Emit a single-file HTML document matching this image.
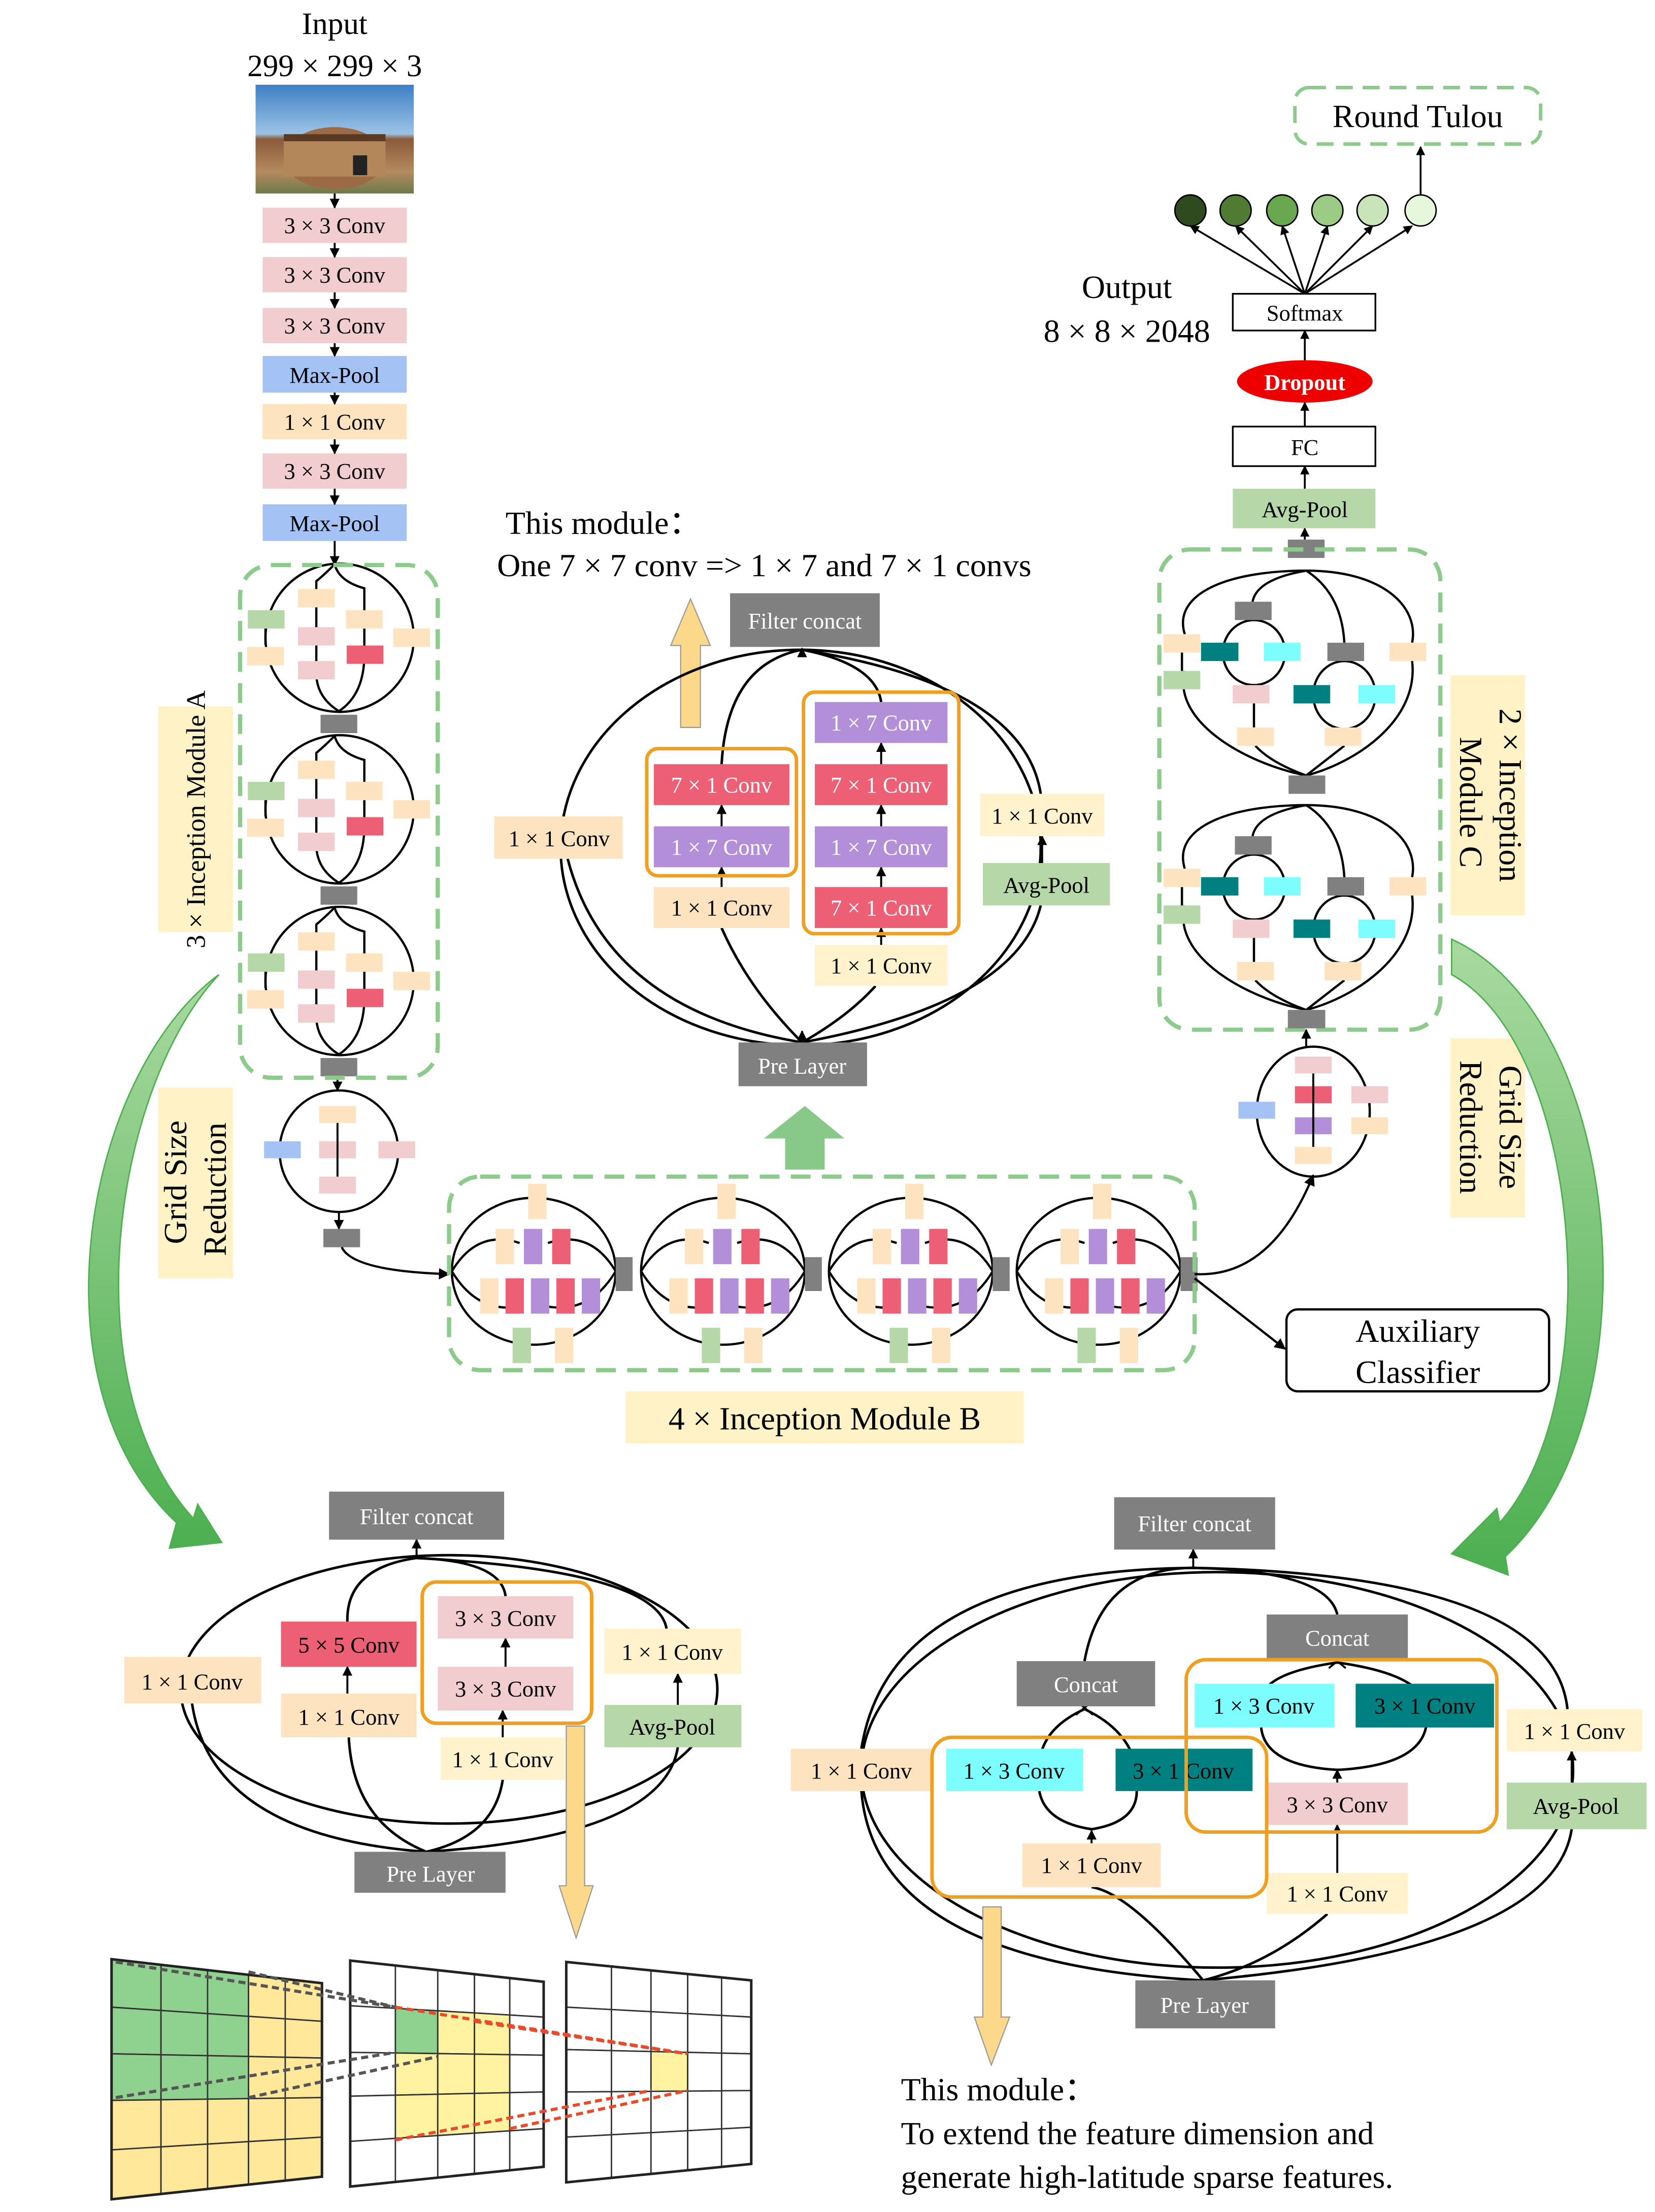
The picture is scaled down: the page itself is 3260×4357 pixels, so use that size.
<!DOCTYPE html>
<html><head><meta charset="utf-8">
<style>
html,body{margin:0;padding:0;background:#fff;}
svg{display:block;}
text{font-family:"Liberation Serif",serif;}
</style></head>
<body>
<svg id="s" xmlns="http://www.w3.org/2000/svg" width="3260" height="4357" viewBox="0 0 1172 1566" preserveAspectRatio="none">
<defs>
<marker id="ar" viewBox="0 0 10 10" refX="9" refY="5" markerWidth="5" markerHeight="5" orient="auto"><path d="M0,0L10,5L0,10z" fill="#000"/></marker>
<linearGradient id="sky" x1="0" y1="0" x2="0" y2="1"><stop offset="0" stop-color="#3f7fc4"/><stop offset="0.45" stop-color="#9bc3e6"/><stop offset="0.5" stop-color="#8a5a3a"/><stop offset="0.8" stop-color="#b58a5f"/><stop offset="1" stop-color="#6d7a4a"/></linearGradient>
<linearGradient id="ga" x1="0" y1="0" x2="0" y2="1"><stop offset="0" stop-color="#a9d9a0"/><stop offset="1" stop-color="#4caf50"/></linearGradient>
</defs>
<g fill="none" stroke="#000" stroke-width="1.6" id="lines"></g>
<g id="shapes"></g>

<text x="237" y="24" font-size="22" text-anchor="middle">Input</text>
<text x="237" y="54" font-size="22" text-anchor="middle">299 × 299 × 3</text>
<rect x="181" y="60" width="112" height="77" fill="url(#sky)"/>
<ellipse cx="237" cy="112" rx="36" ry="22" fill="#9c6b45"/>
<rect x="201" y="95" width="72" height="30" fill="#b4875a"/>
<rect x="201" y="95" width="72" height="5" fill="#5a3a24"/>
<rect x="250" y="110" width="10" height="14" fill="#222"/>
<g font-size="16" text-anchor="middle">
<rect x="186" y="147" width="102" height="25" fill="#f2cdd0"/><text x="237" y="165">3 × 3 Conv</text>
<rect x="186" y="182" width="102" height="25" fill="#f2cdd0"/><text x="237" y="200">3 × 3 Conv</text>
<rect x="186" y="218" width="102" height="25" fill="#f2cdd0"/><text x="237" y="236">3 × 3 Conv</text>
<rect x="186" y="252" width="102" height="26" fill="#a4c2f4"/><text x="237" y="271">Max-Pool</text>
<rect x="186" y="286" width="102" height="25" fill="#fde3bf"/><text x="237" y="304">1 × 1 Conv</text>
<rect x="186" y="321" width="102" height="25" fill="#f2cdd0"/><text x="237" y="339">3 × 3 Conv</text>
<rect x="186" y="357" width="102" height="26" fill="#a4c2f4"/><text x="237" y="376">Max-Pool</text>
</g>
<g stroke="#000" stroke-width="1.4" marker-end="url(#ar)">
<line x1="237" y1="137" x2="237" y2="147"/><line x1="237" y1="172" x2="237" y2="182"/><line x1="237" y1="207" x2="237" y2="218"/><line x1="237" y1="243" x2="237" y2="252"/><line x1="237" y1="278" x2="237" y2="286"/><line x1="237" y1="311" x2="237" y2="321"/><line x1="237" y1="346" x2="237" y2="357"/><line x1="237" y1="383" x2="237" y2="400"/>
<line x1="239" y1="763" x2="239" y2="772"/>
<line x1="240" y1="858" x2="240" y2="870"/>
</g>
<rect x="170" y="400" width="140" height="363" rx="22" fill="none" stroke="#8ccb8c" stroke-width="3" stroke-dasharray="14,8"/>
<rect x="112" y="500" width="53" height="160" fill="#fff2c6"/>
<text transform="translate(145,580) rotate(-90)" font-size="19" text-anchor="middle">3 × Inception Module  A</text>

<ellipse cx="240" cy="815" rx="42" ry="43" fill="none" stroke="#000" stroke-width="1.6"/>
<rect x="187" y="808" width="26" height="12" fill="#a4c2f4"/>
<rect x="226" y="783" width="26" height="12" fill="#fde3bf"/>
<rect x="226" y="808" width="26" height="12" fill="#f2cdd0"/>
<rect x="226" y="833" width="26" height="12" fill="#f2cdd0"/>
<rect x="268" y="808" width="26" height="12" fill="#f2cdd0"/>
<line x1="239" y1="795" x2="239" y2="833" stroke="#000" stroke-width="1.4"/>
<rect x="229" y="870" width="26" height="13" fill="#808080"/>
<rect x="112" y="770" width="53" height="135" fill="#fff2c6"/>
<text transform="translate(132,837) rotate(-90)" font-size="23" text-anchor="middle">Grid Size</text>
<text transform="translate(160,842) rotate(-90)" font-size="23" text-anchor="middle">Reduction</text>
<path d="M242,883 Q250,900 318,902" fill="none" stroke="#000" stroke-width="1.6" marker-end="url(#ar)"/>

<rect x="318" y="833" width="528" height="137" rx="22" fill="none" stroke="#8ccb8c" stroke-width="3" stroke-dasharray="14,8"/>
<rect x="443" y="985" width="282" height="37" fill="#fff2c6"/>
<text x="584" y="1012" font-size="23" text-anchor="middle">4 × Inception Module  B</text>
<path d="M846,902 Q900,905 930,832" fill="none" stroke="#000" stroke-width="1.6" marker-end="url(#ar)"/>
<path d="M846,905 L910,955" fill="none" stroke="#000" stroke-width="1.6" marker-end="url(#ar)"/>
<rect x="911" y="927" width="186" height="58" rx="8" fill="#fff" stroke="#000" stroke-width="1.6"/>
<text x="1004" y="950" font-size="23" text-anchor="middle">Auxiliary</text>
<text x="1004" y="979" font-size="23" text-anchor="middle">Classifier</text>

<polygon points="556,828 584,828 584,806 598,806 570,783 541,806 556,806" fill="#88c98a"/>

<text x="358" y="378" font-size="23">This module：</text>
<text x="352" y="408" font-size="23">One 7 × 7 conv =&gt; 1 × 7 and 7 × 1 convs</text>
<polygon points="482,515 496,515 496,457 503,457 489,424 475,457 482,457" fill="#fcd98a" stroke="#999" stroke-width="0.8"/>
<g fill="none" stroke="#000" stroke-width="1.8">
<ellipse cx="567" cy="600" rx="170" ry="140"/>
<path d="M568,738 Q530,700 511,657"/>
<path d="M568,738 Q600,720 620,698"/>
<path d="M568,738 Q720,710 737,641"/>
<path d="M568,738 Q430,715 402,608"/>
<path d="M511,541 Q515,470 568,460"/>
<path d="M624,497 Q620,470 568,460"/>
<path d="M737,562 Q725,485 568,460"/>
</g>
<g stroke="#000" stroke-width="1.4" marker-end="url(#ar)">
<line x1="511" y1="628" x2="511" y2="614"/><line x1="511" y1="585" x2="511" y2="570"/>
<line x1="624" y1="669" x2="624" y2="657"/><line x1="624" y1="628" x2="624" y2="614"/><line x1="624" y1="585" x2="624" y2="570"/><line x1="624" y1="541" x2="624" y2="526"/>
<line x1="738" y1="611" x2="738" y2="592"/><line x1="568" y1="465" x2="568" y2="459"/><line x1="568" y1="738" x2="568" y2="730"/>
</g>
<g font-size="16" text-anchor="middle">
<rect x="517" y="420" width="106" height="38" fill="#808080"/><text x="570" y="445" fill="#fff">Filter concat</text>
<rect x="523" y="738" width="91" height="31" fill="#808080"/><text x="568" y="760" fill="#fff">Pre Layer</text>
<rect x="350" y="578" width="91" height="30" fill="#fde3bf"/><text x="396" y="599">1 × 1 Conv</text>
<rect x="463" y="541" width="96" height="29" fill="#ec5f74"/><text x="511" y="561" fill="#fff">7 × 1 Conv</text>
<rect x="463" y="585" width="96" height="29" fill="#b48fd9"/><text x="511" y="605" fill="#fff">1 × 7 Conv</text>
<rect x="463" y="628" width="96" height="29" fill="#fde3bf"/><text x="511" y="648">1 × 1 Conv</text>
<rect x="577" y="497" width="94" height="29" fill="#b48fd9"/><text x="624" y="517" fill="#fff">1 × 7 Conv</text>
<rect x="577" y="541" width="94" height="29" fill="#ec5f74"/><text x="624" y="561" fill="#fff">7 × 1 Conv</text>
<rect x="577" y="585" width="94" height="29" fill="#b48fd9"/><text x="624" y="605" fill="#fff">1 × 7 Conv</text>
<rect x="577" y="628" width="94" height="29" fill="#ec5f74"/><text x="624" y="648" fill="#fff">7 × 1 Conv</text>
<rect x="577" y="669" width="94" height="29" fill="#fff2cc"/><text x="624" y="689">1 × 1 Conv</text>
<rect x="694" y="562" width="88" height="30" fill="#fff2cc"/><text x="738" y="583">1 × 1 Conv</text>
<rect x="696" y="611" width="90" height="30" fill="#b6d7a8"/><text x="741" y="632">Avg-Pool</text>
</g>
<rect x="458" y="530" width="106" height="90" rx="8" fill="none" stroke="#f0a020" stroke-width="2.5"/>
<rect x="569" y="490" width="110" height="171" rx="8" fill="none" stroke="#f0a020" stroke-width="2.5"/>

<rect x="917" y="62" width="174" height="40" rx="10" fill="none" stroke="#8ccb8c" stroke-width="2.5" stroke-dasharray="12,7"/>
<text x="1004" y="90" font-size="23" text-anchor="middle">Round Tulou</text>
<g stroke="#000" stroke-width="1.3" marker-end="url(#ar)">
<line x1="924" y1="208" x2="843" y2="160"/><line x1="924" y1="208" x2="875" y2="160"/><line x1="924" y1="208" x2="908" y2="160"/><line x1="924" y1="208" x2="940" y2="160"/><line x1="924" y1="208" x2="972" y2="160"/><line x1="924" y1="208" x2="1000" y2="160"/>
<line x1="1006" y1="138" x2="1006" y2="104"/>
<line x1="924" y1="255" x2="924" y2="234"/><line x1="924" y1="302" x2="924" y2="285"/><line x1="924" y1="346" x2="924" y2="330"/><line x1="924" y1="382" x2="924" y2="374"/>
</g>
<g stroke="#000" stroke-width="1">
<circle cx="843" cy="149" r="11" fill="#2f4a1f"/><circle cx="875" cy="149" r="11" fill="#4f7c32"/><circle cx="908" cy="149" r="11" fill="#6aa84f"/><circle cx="940" cy="149" r="11" fill="#9ccb86"/><circle cx="972" cy="149" r="11" fill="#c8e4b8"/><circle cx="1006" cy="149" r="11" fill="#e6f7dc"/>
</g>
<text x="798" y="211" font-size="23" text-anchor="middle">Output</text>
<text x="798" y="242" font-size="23" text-anchor="middle">8 × 8 × 2048</text>
<rect x="873" y="208" width="101" height="26" fill="#fff" stroke="#000" stroke-width="1.2"/>
<text x="924" y="227" font-size="16" text-anchor="middle">Softmax</text>
<ellipse cx="924" cy="270" rx="48" ry="15" fill="#ee0000"/>
<text x="924" y="276" font-size="16" font-weight="bold" fill="#fff" text-anchor="middle" font-family="Liberation Sans, sans-serif">Dropout</text>
<rect x="873" y="302" width="101" height="28" fill="#fff" stroke="#000" stroke-width="1.2"/>
<text x="924" y="322" font-size="16" text-anchor="middle">FC</text>
<rect x="873" y="346" width="101" height="28" fill="#b6d7a8"/>
<text x="924" y="366" font-size="16" text-anchor="middle">Avg-Pool</text>
<rect x="912" y="382" width="26" height="13" fill="#808080"/>

<rect x="821" y="389" width="199" height="340" rx="22" fill="none" stroke="#8ccb8c" stroke-width="3" stroke-dasharray="14,8"/>
<rect x="1027" y="478" width="53" height="170" fill="#fff2c6"/>
<text transform="translate(1062,563) rotate(90)" font-size="23" text-anchor="middle">2 × Inception</text>
<text transform="translate(1034,568) rotate(90)" font-size="23" text-anchor="middle">Module  C</text>
<rect x="912" y="715" width="26" height="13" fill="#808080"/>
<ellipse cx="930" cy="787" rx="40" ry="46" fill="none" stroke="#000" stroke-width="1.6"/>
<rect x="877" y="780" width="26" height="12" fill="#a4c2f4"/>
<rect x="917" y="748" width="26" height="12" fill="#f2cdd0"/>
<rect x="917" y="769" width="26" height="12" fill="#ec5f74"/>
<rect x="917" y="791" width="26" height="12" fill="#b48fd9"/>
<rect x="917" y="812" width="26" height="12" fill="#fde3bf"/>
<rect x="957" y="769" width="26" height="12" fill="#f2cdd0"/>
<rect x="957" y="791" width="26" height="12" fill="#fde3bf"/>
<line x1="930" y1="760" x2="930" y2="812" stroke="#000" stroke-width="1.4"/>
<line x1="970" y1="781" x2="970" y2="791" stroke="#000" stroke-width="1.4"/>
<line x1="925" y1="741" x2="925" y2="729" stroke="#000" stroke-width="1.4" marker-end="url(#ar)"/>
<rect x="1027" y="735" width="53" height="127" fill="#fff2c6"/>
<text transform="translate(1062,798) rotate(90)" font-size="23" text-anchor="middle">Grid Size</text>
<text transform="translate(1034,798) rotate(90)" font-size="23" text-anchor="middle">Reduction</text>

<path d="M155,690 C60,760 20,980 125,1078 L120,1096 L157,1092 L140,1065 L137,1075 C50,980 80,770 155,690 Z" fill="url(#ga)" stroke="#4caf50" stroke-width="1"/>
<path d="M1028,665 L1028,690 C1120,740 1140,990 1062,1078 L1060,1068 L1028,1100 L1068,1115 L1066,1102 C1175,1000 1150,720 1028,665 Z" fill="url(#ga)" stroke="#4caf50" stroke-width="1"/>

<g fill="none" stroke="#000" stroke-width="1.8">
<ellipse cx="318" cy="1196" rx="190" ry="95"/>
<path d="M302,1311 Q250,1290 247,1230"/>
<path d="M302,1311 Q350,1300 356,1260"/>
<path d="M302,1311 Q470,1300 480,1237"/>
<path d="M302,1311 Q150,1300 136,1206"/>
<path d="M246,1148 Q245,1110 295,1103"/>
<path d="M358,1130 Q355,1105 295,1103"/>
<path d="M472,1153 Q465,1112 295,1103"/>
</g>
<g stroke="#000" stroke-width="1.4" marker-end="url(#ar)">
<line x1="246" y1="1199" x2="246" y2="1180"/><line x1="358" y1="1180" x2="358" y2="1160"/><line x1="356" y1="1230" x2="356" y2="1211"/><line x1="480" y1="1207" x2="480" y2="1185"/><line x1="295" y1="1103" x2="295" y2="1090"/>
</g>
<g font-size="16" text-anchor="middle">
<rect x="233" y="1056" width="124" height="34" fill="#808080"/><text x="295" y="1079" fill="#fff">Filter concat</text>
<rect x="251" y="1311" width="107" height="29" fill="#808080"/><text x="305" y="1332" fill="#fff">Pre Layer</text>
<rect x="88" y="1173" width="97" height="33" fill="#fde3bf"/><text x="136" y="1196">1 × 1 Conv</text>
<rect x="199" y="1148" width="96" height="32" fill="#ec5f74"/><text x="247" y="1170" fill="#000">5 × 5 Conv</text>
<rect x="199" y="1199" width="96" height="31" fill="#fde3bf"/><text x="247" y="1221">1 × 1 Conv</text>
<rect x="310" y="1130" width="96" height="30" fill="#f2cdd0"/><text x="358" y="1151">3 × 3 Conv</text>
<rect x="310" y="1180" width="96" height="31" fill="#f2cdd0"/><text x="358" y="1201">3 × 3 Conv</text>
<rect x="312" y="1230" width="88" height="30" fill="#fff2cc"/><text x="356" y="1251">1 × 1 Conv</text>
<rect x="428" y="1153" width="97" height="32" fill="#fff2cc"/><text x="476" y="1175">1 × 1 Conv</text>
<rect x="428" y="1207" width="97" height="30" fill="#b6d7a8"/><text x="476" y="1228">Avg-Pool</text>
</g>
<rect x="299" y="1120" width="120" height="100" rx="10" fill="none" stroke="#f0a020" stroke-width="2.5"/>
<polygon points="401,1222 414,1222 414,1335 420,1335 408,1372 396,1335 401,1335" fill="#fcd98a" stroke="#999" stroke-width="0.8"/>

<g id="grids"></g>

<g fill="none" stroke="#000" stroke-width="1.8">
<ellipse cx="862" cy="1253" rx="252" ry="140"/>
<path d="M852,1402 Q800,1340 773,1336"/>
<path d="M852,1402 Q900,1390 940,1355"/>
<path d="M852,1402 Q1100,1380 1113,1295"/>
<path d="M852,1402 Q620,1390 610,1268"/>
<path d="M736,1253 Q735,1225 768,1210 Q800,1225 805,1253"/>
<path d="M736,1268 Q740,1290 773,1295 Q805,1290 805,1268"/>
<path d="M893,1207 Q890,1185 947,1177 Q1005,1185 1010,1207"/>
<path d="M893,1222 Q895,1250 947,1253 Q1005,1250 1010,1222"/>
<path d="M768,1176 Q780,1110 845,1110"/>
<path d="M947,1143 Q940,1112 845,1110"/>
<path d="M1110,1210 Q1100,1115 845,1110"/>
<path d="M610,1238 Q630,1112 845,1110"/>
</g>
<g stroke="#000" stroke-width="1.4" marker-end="url(#ar)">
<line x1="773" y1="1305" x2="773" y2="1296"/><line x1="947" y1="1326" x2="947" y2="1292"/><line x1="947" y1="1262" x2="947" y2="1253"/><line x1="1113" y1="1262" x2="1113" y2="1240"/><line x1="845" y1="1110" x2="845" y2="1097"/>
</g>
<g stroke="#000" stroke-width="1.4"><path d="M762,1204 l12,10 M774,1204 l-12,10 M941,1171 l12,10 M953,1171 l-12,10"/></g>
<g font-size="16" text-anchor="middle">
<rect x="789" y="1060" width="114" height="37" fill="#808080"/><text x="846" y="1084" fill="#fff">Filter concat</text>
<rect x="897" y="1143" width="100" height="32" fill="#808080"/><text x="947" y="1165" fill="#fff">Concat</text>
<rect x="720" y="1176" width="98" height="32" fill="#808080"/><text x="769" y="1198" fill="#fff">Concat</text>
<rect x="804" y="1402" width="99" height="34" fill="#808080"/><text x="853" y="1425" fill="#fff">Pre Layer</text>
<rect x="560" y="1238" width="100" height="30" fill="#fde3bf"/><text x="610" y="1259">1 × 1 Conv</text>
<rect x="670" y="1238" width="97" height="30" fill="#7dfdfd"/><text x="718" y="1259">1 × 3 Conv</text>
<rect x="790" y="1238" width="97" height="30" fill="#008080"/><text x="838" y="1259">3 × 1 Conv</text>
<rect x="724" y="1305" width="98" height="31" fill="#fde3bf"/><text x="773" y="1326">1 × 1 Conv</text>
<rect x="846" y="1192" width="99" height="31" fill="#7dfdfd"/><text x="895" y="1213">1 × 3 Conv</text>
<rect x="960" y="1192" width="98" height="31" fill="#008080"/><text x="1009" y="1213">3 × 1 Conv</text>
<rect x="897" y="1262" width="100" height="30" fill="#f2cdd0"/><text x="947" y="1283">3 × 3 Conv</text>
<rect x="897" y="1326" width="100" height="29" fill="#fff2cc"/><text x="947" y="1346">1 × 1 Conv</text>
<rect x="1067" y="1210" width="96" height="30" fill="#fff2cc"/><text x="1115" y="1231">1 × 1 Conv</text>
<rect x="1067" y="1262" width="99" height="33" fill="#b6d7a8"/><text x="1116" y="1284">Avg-Pool</text>
</g>
<rect x="660" y="1230" width="237" height="113" rx="14" fill="none" stroke="#f0a020" stroke-width="2.5"/>
<rect x="840" y="1175" width="220" height="122" rx="14" fill="none" stroke="#f0a020" stroke-width="2.5"/>
<polygon points="696,1350 709,1350 709,1428 715,1428 702,1462 690,1428 696,1428" fill="#fcd98a" stroke="#999" stroke-width="0.8"/>
<text x="638" y="1487" font-size="23">This module：</text>
<text x="638" y="1518" font-size="23">To extend the feature dimension and</text>
<text x="638" y="1549" font-size="23">generate high-latitude sparse features.</text>
</svg>
<script>
(function(){
var NS="http://www.w3.org/2000/svg";
var sh=document.getElementById("shapes"), ln=document.getElementById("lines"), gr=document.getElementById("grids");
function R(p,x,y,w,h,f){var r=document.createElementNS(NS,"rect");r.setAttribute("x",x);r.setAttribute("y",y);r.setAttribute("width",w);r.setAttribute("height",h);r.setAttribute("fill",f);p.appendChild(r);}
function P(p,d,st){var e=document.createElementNS(NS,"path");e.setAttribute("d",d);for(var k in st)e.setAttribute(k,st[k]);p.appendChild(e);}
var pe="#fde3bf",pk="#f2cdd0",gn="#b6d7a8",rd="#ec5f74",pu="#b48fd9",gy="#808080",cy="#7dfdfd",tl="#008080";
[0,121.5,243].forEach(function(o){
 var c=451.5+o;
 P(ln,"M240.5,"+(c-52.5)+"A52.5,52.5 0 1 0 240.5,"+(c+52.5)+"A52.5,52.5 0 1 0 240.5,"+(c-52.5),{});
 P(ln,"M237,"+(c-52)+"Q230,"+(c-45)+" 224,"+(c-40)+"L224,"+(c+25)+"Q224,"+(c+42)+" 240,"+(c+52));
 P(ln,"M237,"+(c-52)+"Q240,"+(c-40)+" 258,"+(c-35)+"L258,"+(c+12)+"Q258,"+(c+40)+" 240,"+(c+52));
 P(ln,"M188,"+(c-10)+"L188,"+(c+5));
 R(sh,175.5,c-19.5,26,13,gn);R(sh,175,c+6.5,26,13,pe);
 R(sh,211,c-34.5,26,13,pe);R(sh,211,c-7.5,26,13,pk);R(sh,211,c+16.5,26,13,pk);
 R(sh,245,c-19.5,26,13,pe);R(sh,245.5,c+5.5,26,13,rd);R(sh,278.5,c-6.5,26,13,pe);
 R(sh,227,c+54.5,26,13,gy);
});
[378,512,645,778].forEach(function(x,i){
 P(ln,"M"+(x-58)+",900A58,52 0 1 0 "+(x+58)+",900A58,52 0 1 0 "+(x-58)+",900");
 P(ln,"M"+(x-58)+",900Q"+(x-40)+",870 "+(x-10)+",880M"+(x-58)+",900Q"+(x-40)+",930 "+(x-10)+",925M"+(x+58)+",900Q"+(x+40)+",870 "+(x+10)+",880M"+(x+58)+",900Q"+(x+40)+",930 "+(x+10)+",925");
 R(sh,x-4,838,13,25,pe);
 R(sh,x-27,870,13,25,pe);R(sh,x-7,870,13,25,pu);R(sh,x+13,870,13,25,rd);
 R(sh,x-38,905,13,25,pe);R(sh,x-20,905,13,25,rd);R(sh,x-2,905,13,25,pu);R(sh,x+16,905,13,25,rd);R(sh,x+34,905,13,25,pu);
 R(sh,x-15,940,13,25,gn);R(sh,x+15,940,13,25,pe);
 R(sh,x+58,890,12,24,gy);
});
[0,166].forEach(function(o){
 P(ln,"M925,"+(404+o)+"C870,"+(404+o)+" 830,"+(420+o)+" 839,"+(449+o)+"M839,"+(475+o)+"C830,"+(510+o)+" 880,"+(540+o)+" 925,"+(549+o));
 P(ln,"M925,"+(404+o)+"C980,"+(404+o)+" 1005,"+(430+o)+" 1000,"+(455+o)+"M1000,"+(468+o)+"C1005,"+(510+o)+" 960,"+(540+o)+" 925,"+(549+o));
 P(ln,"M925,"+(404+o)+"Q890,"+(410+o)+" 887,"+(426+o)+"M925,"+(404+o)+"Q950,"+(420+o)+" 952,"+(455+o));
 P(ln,"M888,"+(491+o)+"L888,"+(515+o)+"M889,"+(528+o)+"Q900,"+(540+o)+" 925,"+(549+o)+"M952,"+(528+o)+"L925,"+(549+o));
 P(ln,"M837,"+(462+o)+"L837,"+(475+o));
 var e=document.createElementNS(NS,"ellipse");e.setAttribute("cx",888);e.setAttribute("cy",462+o);e.setAttribute("rx",22);e.setAttribute("ry",23);ln.appendChild(e);
 e=document.createElementNS(NS,"ellipse");e.setAttribute("cx",952);e.setAttribute("cy",492+o);e.setAttribute("rx",22);e.setAttribute("ry",24);ln.appendChild(e);
 R(sh,874.5,426+o,26,13,gy);R(sh,824,449+o,26,13,pe);R(sh,824,475+o,26,13,gn);
 R(sh,850.5,455+o,26.5,13,tl);R(sh,895,455+o,26,13,cy);R(sh,940,455+o,26,13,gy);R(sh,984,455+o,26,13,pe);
 R(sh,873,485+o,26,13,pk);R(sh,916,485+o,26,13,tl);R(sh,962,485+o,26,13,cy);
 R(sh,876,515+o,26,13,pe);R(sh,938,515+o,26,13,pe);
 R(sh,912.5,549+o,26,13,gy);
});
function L(a,b,t){return [a[0]+(b[0]-a[0])*t,a[1]+(b[1]-a[1])*t];}
function grid(TL,TR,BL,BR,cols,rowsL,rowsR,fills){
 var cs=[0].concat(cols).concat([1]), rl=[0].concat(rowsL).concat([1]), rr=[0].concat(rowsR).concat([1]);
 function pt(ci,ri){var u=cs[ci];var top=L(TL,TR,u),bot=L(BL,BR,u);var v=rl[ri]+(rr[ri]-rl[ri])*u;return L(top,bot,v);}
 for(var i=0;i<cs.length-1;i++)for(var j=0;j<rl.length-1;j++){
  var f=fills(i,j);var a=pt(i,j),b=pt(i+1,j),c=pt(i+1,j+1),d=pt(i,j+1);
  P(gr,"M"+a+"L"+b+"L"+c+"L"+d+"Z",{fill:f,stroke:"#333","stroke-width":"1"});
 }
 P(gr,"M"+TL+"L"+TR+"L"+BR+"L"+BL+"Z",{fill:"none",stroke:"#222","stroke-width":"1.8"});
}
function fr(vals,a,b){return vals.map(function(v){return (v-a)/(b-a);});}
grid([79,1387],[228,1404],[79,1557],[228,1541],fr([114,147,176,202],79,228),fr([1421,1454,1487,1522],1387,1557),fr([1431,1457,1485,1513],1404,1541),function(i,j){return (i<3&&j<3)?"#8fd18f":"#ffe89a";});
grid([248,1388],[385,1403],[248,1548],[385,1534],fr([280,310,336,361],248,385),fr([1420,1453,1484,1516],1388,1548),fr([1428,1455,1481,1507],1403,1534),function(i,j){if(i==1&&j==1)return "#8fd18f";return (i>=1&&i<=3&&j>=1&&j<=3)?"#fff2a0":"#fff";});
grid([401,1389],[532,1402],[401,1545],[532,1532],fr([433,461,487,511],401,532),fr([1421,1451,1481,1513],1389,1545),fr([1428,1454,1480,1506],1402,1532),function(i,j){return (i==2&&j==2)?"#fff2a0":"#fff";});
var dg={fill:"none",stroke:"#555","stroke-width":"2.2","stroke-dasharray":"5,3"};
P(gr,"M82,1389L280,1421M176,1396L280,1421M82,1485L280,1453M176,1485L310,1456",dg);
var dr={fill:"none",stroke:"#e84a2a","stroke-width":"2.2","stroke-dasharray":"5,3"};
P(gr,"M280,1421L487,1454M336,1431L487,1454M280,1515L461,1480M361,1507L487,1480",dr);
})();
</script>
</body></html>
